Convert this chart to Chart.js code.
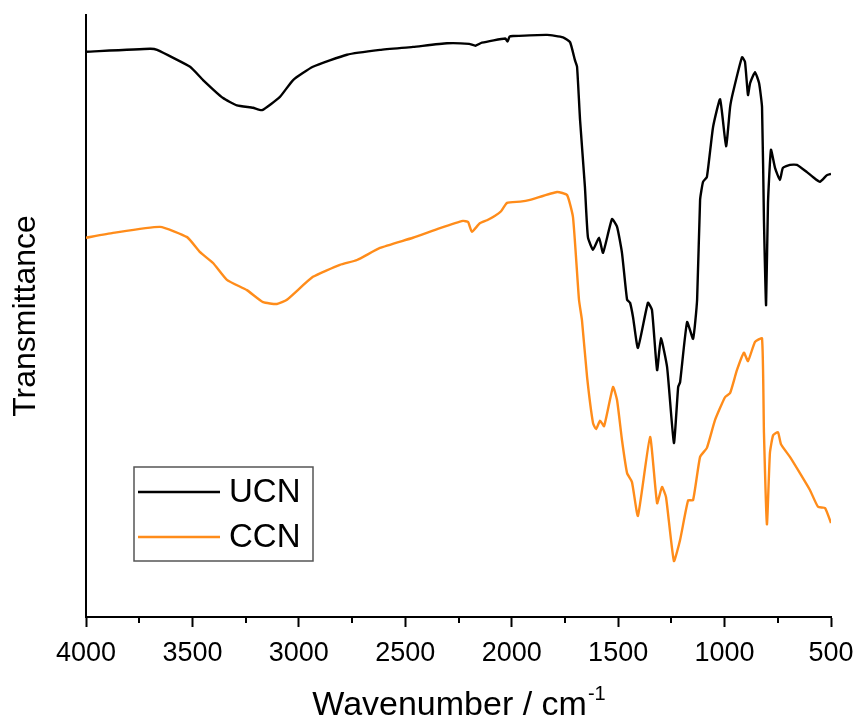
<!DOCTYPE html>
<html>
<head>
<meta charset="utf-8">
<script src="https://cdn.jsdelivr.net/npm/chart.js@4/dist/chart.umd.min.js"></script>
<style>
  html, body { margin: 0; padding: 0; background: #ffffff; }
  #wrap { width: 859px; height: 724px; }
</style>
</head>
<body>
<div id="wrap"><canvas id="c" width="859" height="724"></canvas></div>
<script>
// FTIR spectra of UCN and CCN (transmittance in arbitrary units, offset for clarity)
const seriesNames = ['UCN', 'CCN'];
const seriesColors = ['#000000', '#ff8c1a'];

const ucnWavenumber = [4000, 3699, 3666, 3511, 3450, 3356, 3291, 3215, 3173, 3089, 3027, 2934, 2774, 2619, 2464, 2304,
  2200, 2170, 2140, 2030, 2020, 2010, 1994, 1834, 1759, 1726, 1703, 1693, 1679, 1656, 1642, 1618, 1590, 1571, 1529, 1505,
  1482, 1458, 1444, 1430, 1407, 1360, 1341, 1317, 1299, 1270, 1238, 1218, 1209, 1176, 1148, 1129, 1115, 1101, 1083, 1054,
  1021, 993, 974, 960, 918, 904, 890, 880, 857, 838, 824, 815, 805, 796, 782, 763, 740, 726, 693, 660, 613, 585, 552, 519, 500];
const ucnT = [93.9, 94.4, 94.2, 91.4, 89.2, 86.2, 85.0, 84.6, 84.2, 86.4, 89.2, 91.4, 93.4, 94.2, 94.7, 95.3,
  95.2, 94.9, 95.4, 96.1, 95.6, 96.4, 96.5, 96.7, 96.3, 95.5, 92.5, 91.4, 82.6, 71.4, 63.1, 61.0, 63.0, 60.5, 66.1, 64.8,
  60.5, 52.7, 52.2, 49.8, 44.7, 52.2, 51.0, 41.0, 46.3, 41.5, 28.9, 38.2, 39.0, 49.0, 46.2, 52.7, 69.3, 72.3, 73.1, 81.4,
  86.0, 78.2, 84.7, 87.2, 93.0, 92.2, 86.7, 88.7, 90.5, 88.7, 84.7, 65.9, 51.8, 68.8, 77.6, 74.6, 72.6, 74.6, 75.1, 75.1, 73.9, 73.1, 72.3, 73.4, 73.6];

const ccnWavenumber = [4000, 3873, 3652, 3525, 3464, 3403, 3338, 3244, 3168, 3103, 3056, 2934, 2807, 2727, 2619, 2464,
  2337, 2229, 2205, 2187, 2150, 2116, 2080, 2050, 2022, 1960, 1914, 1787, 1740, 1712, 1684, 1670, 1646, 1618, 1604, 1585,
  1566, 1524, 1505, 1482, 1458, 1435, 1407, 1350, 1317, 1294, 1275, 1238, 1209, 1171, 1148, 1115, 1083, 1045, 998, 974,
  942, 909, 890, 857, 824, 815, 801, 787, 772, 749, 735, 693, 646, 599, 561, 528, 500];
const ccnT = [63.0, 63.8, 64.8, 63.1, 60.6, 58.8, 56.0, 54.3, 52.3, 52.0, 52.7, 56.5, 58.5, 59.3, 61.3, 63.0,
  64.6, 65.8, 65.6, 64.0, 65.4, 65.9, 66.6, 67.4, 68.8, 69.0, 69.3, 70.6, 70.1, 66.4, 52.7, 49.3, 39.9, 32.2, 31.2, 32.6,
  31.7, 38.2, 36.0, 29.4, 23.9, 22.4, 16.8, 29.9, 18.9, 21.6, 19.9, 9.3, 12.8, 19.4, 19.4, 26.6, 28.1, 32.7, 36.5, 37.2,
  41.0, 43.9, 42.5, 45.7, 46.3, 30.6, 15.4, 27.2, 30.2, 30.7, 28.7, 26.6, 23.9, 21.1, 18.3, 18.1, 15.6];

const xTickValues = [4000, 3500, 3000, 2500, 2000, 1500, 1000, 500];
const xMinorTicks = [3750, 3250, 2750, 2250, 1750, 1250, 750];
const xTitle = 'Wavenumber / cm';
const xTitleSup = '-1';
const yTitle = 'Transmittance';

const FONT = '"Liberation Sans", Arial, sans-serif';

const toPoints = (xs, ys) => xs.map((x, i) => ({ x: x, y: ys[i] }));

// minor ticks on the wavenumber axis and the superscripted axis title
const axisExtras = {
  id: 'axisExtras',
  afterDraw(chart) {
    const ctx = chart.ctx;
    const xs = chart.scales.x;
    const area = chart.chartArea;
    ctx.save();
    ctx.strokeStyle = '#000';
    ctx.lineWidth = 2;
    xMinorTicks.forEach(v => {
      const px = Math.round(xs.getPixelForValue(v));
      ctx.beginPath();
      ctx.moveTo(px, area.bottom);
      ctx.lineTo(px, area.bottom + 6);
      ctx.stroke();
    });
    // x title with superscript
    ctx.fillStyle = '#000';
    ctx.textBaseline = 'alphabetic';
    ctx.font = '34px ' + FONT;
    const w1 = ctx.measureText(xTitle).width;
    ctx.font = '20px ' + FONT;
    const w2 = ctx.measureText(xTitleSup).width;
    const cx = (area.left + area.right) / 2;
    const startX = cx - (w1 + w2) / 2;
    const baseY = 715;
    ctx.font = '34px ' + FONT;
    ctx.textAlign = 'left';
    ctx.fillText(xTitle, startX, baseY);
    ctx.font = '20px ' + FONT;
    ctx.fillText(xTitleSup, startX + w1 + 1, baseY - 15);
    ctx.restore();
  }
};

// boxed legend inside the plot area
const boxLegend = {
  id: 'boxLegend',
  afterDraw(chart) {
    const ctx = chart.ctx;
    const area = chart.chartArea;
    const bx = area.left + 48, by = area.top + 452, bw = 179, bh = 94;
    ctx.save();
    ctx.strokeStyle = '#555';
    ctx.lineWidth = 1.5;
    ctx.strokeRect(bx, by, bw, bh);
    ctx.font = '33px ' + FONT;
    ctx.textBaseline = 'middle';
    ctx.textAlign = 'left';
    chart.data.datasets.forEach((ds, i) => {
      const ly = by + 25 + i * 45;
      ctx.strokeStyle = ds.borderColor;
      ctx.lineWidth = 2.5;
      ctx.beginPath();
      ctx.moveTo(bx + 4, ly);
      ctx.lineTo(bx + 86, ly);
      ctx.stroke();
      ctx.fillStyle = '#000';
      ctx.fillText(ds.label, bx + 95, ly + 1);
    });
    ctx.restore();
  }
};

new Chart(document.getElementById('c'), {
  type: 'line',
  data: {
    datasets: [
      { label: seriesNames[0], data: toPoints(ucnWavenumber, ucnT), borderColor: seriesColors[0] },
      { label: seriesNames[1], data: toPoints(ccnWavenumber, ccnT), borderColor: seriesColors[1] }
    ]
  },
  options: {
    responsive: false,
    animation: false,
    parsing: false,
    layout: { padding: { top: 15, right: 28, left: 0, bottom: 0 } },
    elements: {
      line: { borderWidth: 2.4, tension: 0.15, fill: false },
      point: { radius: 0 }
    },
    plugins: { legend: { display: false }, tooltip: { enabled: false } },
    scales: {
      x: {
        type: 'linear',
        reverse: true,
        min: 500,
        max: 4000,
        afterFit(scale) {
          scale.height = 107;
          scale.paddingLeft = 0;
          scale.paddingRight = 0;
        },
        afterBuildTicks(scale) { scale.ticks = xTickValues.map(v => ({ value: v })); },
        ticks: {
          autoSkip: false,
          maxRotation: 0,
          padding: 10,
          color: '#000',
          font: { family: FONT, size: 27 },
          callback: v => String(v)
        },
        grid: { drawOnChartArea: false, tickLength: 10, tickWidth: 2, tickColor: '#000' },
        border: { display: true, color: '#000', width: 2 }
      },
      y: {
        type: 'linear',
        min: 0,
        max: 100,
        afterFit(scale) { scale.width = 86; },
        ticks: { display: false },
        grid: { display: false, drawTicks: false },
        border: { display: true, color: '#000', width: 2 },
        title: {
          display: true,
          text: yTitle,
          color: '#000',
          font: { family: FONT, size: 32 },
          padding: { top: 7, bottom: 0 }
        }
      }
    }
  },
  plugins: [axisExtras, boxLegend]
});
</script>
</body>
</html>
